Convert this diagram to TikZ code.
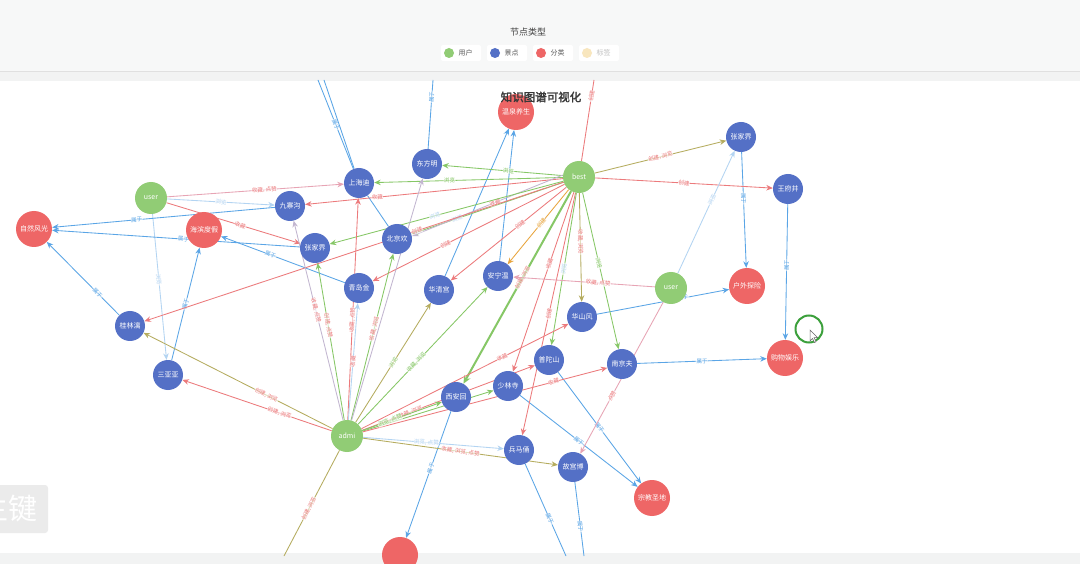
\documentclass[tikz,border=0pt]{standalone}
\usepackage{fontspec}
\setmainfont{Noto Sans CJK SC}[AutoFakeBold=2]
\usetikzlibrary{arrows.meta}
\definecolor{ug}{HTML}{91CC75}
\definecolor{sb}{HTML}{5470C6}
\definecolor{cr}{HTML}{EE6666}
\definecolor{lo}{HTML}{F8E6BE}
\definecolor{eb}{HTML}{5AA5E6}
\definecolor{elb}{HTML}{B3D4F2}
\definecolor{er}{HTML}{EC7A7C}
\definecolor{eg}{HTML}{86C766}
\definecolor{eo}{HTML}{B5AC5E}
\definecolor{ep}{HTML}{E7A4B4}
\definecolor{ev}{HTML}{C2B6D0}
\definecolor{eor}{HTML}{E8A640}
\definecolor{bandbg}{HTML}{F7F8F8}
\definecolor{outerbg}{HTML}{F2F3F3}
\pgfdeclarelayer{bg}
\pgfdeclarelayer{edges}
\pgfdeclarelayer{top}
\pgfsetlayers{bg,edges,main,top}
\tikzset{
  nd/.style={circle, inner sep=0pt, text=white, font=\fontsize{7}{7}\selectfont},
  gnode/.style={nd, fill=ug, minimum size=32pt},
  bnode/.style={nd, fill=sb, minimum size=30pt},
  rnode/.style={nd, fill=cr, minimum size=36pt},
  e/.style={-{Stealth[length=6.5pt,width=5.5pt]}, line width=0.85pt},
  pl/.style={line width=0.85pt},
  elab/.style={font=\fontsize{5.5}{5.5}\selectfont, sloped, text=#1, fill=white, fill opacity=0.6, text opacity=1, inner sep=0.4pt},
  elab/.default=eb,
  legdot/.style={circle, inner sep=0pt, minimum size=10pt},
  legtxt/.style={font=\fontsize{7}{7}\selectfont, text=black!65, anchor=west}
}
\begin{document}
\begin{tikzpicture}[x=1pt,y=-1pt]
\useasboundingbox (0,0) rectangle (1080,564);
\begin{pgfonlayer}{bg}
  \fill[outerbg] (0,0) rectangle (1080,564);
  \fill[bandbg] (0,0) rectangle (1080,71);
  \draw[black!12, line width=0.8pt] (0,71.5) -- (1080,71.5);
  \fill[white] (0,81) rectangle (1080,553);
  \foreach \x in {441, 487, 533, 579}
    \fill[white, rounded corners=2pt] (\x,45) rectangle ++(40,16);
\end{pgfonlayer}

% legend
\node[font=\fontsize{9}{9}\selectfont, text=black!75] (legtitle) at (528,32) {节点类型};
\node[legdot, fill=ug] (lg1) at (449,53) {};
\node[legtxt] (lt1) at (455,53) {用户};
\node[legdot, fill=sb] (lg2) at (495,53) {};
\node[legtxt] (lt2) at (501,53) {景点};
\node[legdot, fill=cr] (lg3) at (541,53) {};
\node[legtxt] (lt3) at (547,53) {分类};
\node[legdot, fill=lo] (lg4) at (587,53) {};
\node[legtxt, text=black!25] (lt4) at (593,53) {标签};

% nodes
\node[rnode] (wqys) at (516,112) {温泉养生};
\node[bnode] (dfm) at (427,164) {东方明};
\node[gnode] (best) at (579,177) {best};
\node[bnode] (zjj1) at (741,137) {张家界};
\node[bnode] (wfj) at (788,189) {王府井};
\node[gnode] (u1) at (151,198) {user};
\node[bnode] (shd) at (359,183) {上海迪};
\node[bnode] (jzg) at (290,206) {九寨沟};
\node[rnode] (zrfg) at (34,229) {自然风光};
\node[rnode] (hbdj) at (204,230) {海滨度假};
\node[bnode] (zjj2) at (315,248) {张家界};
\node[bnode] (bjh) at (397,239) {北京欢};
\node[bnode] (qdj) at (359,288) {青岛金};
\node[bnode] (hqg) at (439,290) {华清宫};
\node[bnode] (anw) at (498,276) {安宁温};
\node[gnode] (u2) at (671,288) {user};
\node[rnode] (hwtx) at (747,286) {户外探险};
\node[bnode] (gll) at (130,326) {桂林漓};
\node[bnode] (hsf) at (582,317) {华山风};
\node[bnode] (sya) at (168,375) {三亚亚};
\node[bnode] (pts) at (549,360) {普陀山};
\node[bnode] (njf) at (622,364) {南京夫};
\node[rnode] (gwyl) at (785,358) {购物娱乐};
\node[bnode] (slj) at (508,386) {少林寺};
\node[bnode] (xah) at (456,397) {西安回};
\node[gnode] (admi) at (347,436) {admi};
\node[bnode] (bmy) at (519,450) {兵马俑};
\node[bnode] (ggb) at (573,467) {故宫博};
\node[rnode] (zjsd) at (652,498) {宗教圣地};
\node[rnode] (botred) at (400,555) {};

% title on top
\begin{pgfonlayer}{top}
\node[font=\fontsize{11.5}{11.5}\selectfont\bfseries, text=black!78] (title) at (541,97) {知识图谱可视化};
\end{pgfonlayer}

% off-canvas ends
\coordinate (ctopA) at (318,80);
\coordinate (ctopB) at (324,80);
\coordinate (ctopC) at (433,80);
\coordinate (ctopD) at (594,80);
\coordinate (cbotA) at (566,556);
\coordinate (cbotB) at (584,556);
\coordinate (cbotC) at (284,556);

% watermark box and cursor ring
\node[fill=black!8, rounded corners=3pt, minimum width=70pt, minimum height=48pt] (wmbox) at (13,509) {};
\node[font=\fontsize{29}{29}\selectfont, text=white] (wmtxt) at (9,509) {主键};
\node[circle, draw={rgb,255:red,60;green,160;blue,60}, line width=2pt, minimum size=27pt, inner sep=0pt] (ring) at (809,329) {};
\coordinate (cur) at (810,330);
\draw[fill=white, draw=black!60, line width=0.5pt] (cur) -- ++(0,11) -- ++(2.5,-2.5) -- ++(2,4) -- ++(1.6,-0.8) -- ++(-2,-4) -- ++(3.5,0) -- cycle;

\begin{pgfonlayer}{edges}
% user 1
\draw[e, draw=ep] (u1) -- node[elab=er, pos=0.55]{收藏, 点赞} (shd);
\draw[e, draw=elb] (u1) -- node[elab=elb]{浏览} (jzg);
\draw[e, draw=er] (u1) -- node[elab=er, pos=0.55]{收藏} (zjj2);
\draw[e, draw=elb] (u1) -- node[elab=elb, pos=0.45]{浏览} (sya);
% belongs-to edges
\draw[e, draw=eb] (jzg) -- node[elab, pos=0.62]{属于} (zrfg);
\draw[e, draw=eb] (zjj2) -- node[elab, pos=0.47]{属于} (zrfg);
\draw[e, draw=eb] (qdj) -- node[elab, pos=0.6]{属于} (hbdj);
\draw[e, draw=eb] (sya) -- node[elab]{属于} (hbdj);
\draw[e, draw=eb] (gll) -- node[elab, pos=0.3]{属于} (zrfg);
\draw[pl, draw=eb] (shd) -- node[elab, pos=0.5]{属于} (ctopA);
\draw[pl, draw=eb] (shd) -- (ctopB);
\draw[pl, draw=eb] (bjh) -- (shd);
\draw[pl, draw=eb] (dfm) -- node[elab, pos=0.75]{属于} (ctopC);
\draw[e, draw=eb] (hqg) -- (wqys);
\draw[e, draw=eb] (anw) -- (wqys);
\draw[e, draw=eb] (zjj1) -- node[elab, pos=0.4]{属于} (hwtx);
\draw[e, draw=eb] (wfj) -- node[elab, pos=0.45]{属于} (gwyl);
\draw[e, draw=eb] (njf) -- node[elab]{属于} (gwyl);
\draw[e, draw=eb] (hsf) -- node[elab, pos=0.65]{属于} (hwtx);
\draw[e, draw=eb] (pts) -- node[elab]{属于} (zjsd);
\draw[e, draw=eb] (slj) -- node[elab, pos=0.5]{属于} (zjsd);
\draw[pl, draw=eb] (bmy) -- node[elab, pos=0.6]{属于} (cbotA);
\draw[pl, draw=eb] (ggb) -- node[elab, pos=0.6]{属于} (cbotB);
\draw[e, draw=eb] (xah) -- node[elab, pos=0.45]{属于} (botred);
% best
\draw[e, draw=eg] (best) -- node[elab=eg, pos=0.45]{浏览} (dfm);
\draw[e, draw=eg] (best) -- node[elab=eg, pos=0.6]{浏览} (shd);
\draw[e, draw=er] (best) -- node[elab=er, pos=0.72]{收藏} (jzg);
\draw[e, draw=eo] (best) -- node[elab=er, pos=0.5]{创建, 浏览} (zjj1);
\draw[e, draw=er] (best) -- node[elab=er, pos=0.5]{创建} (wfj);
\draw[e, draw=eg] (best) -- node[elab=elb, pos=0.7]{浏览} (bjh);
\draw[e, draw=ev] ([yshift=2pt]best.west) -- node[elab=er, pos=0.45]{收藏} ([yshift=3pt]bjh.east);
\draw[e, draw=eg] (best) -- node[elab=elb, pos=0.55]{浏览} (zjj2);
\draw[e, draw=er] (best) -- node[elab=er, pos=0.35]{创建} (gll);
\draw[e, draw=er] (best) -- node[elab=er, pos=0.62]{创建} (qdj);
\draw[e, draw=er] (best) -- node[elab=er, pos=0.4]{创建} (hqg);
\draw[e, draw=eor] (best) -- node[elab=eor, pos=0.45]{创建} (anw);
\draw[-{Stealth[length=8pt,width=7pt]}, line width=2pt, draw=eg] (best) -- node[elab=er, pos=0.45]{创建, 浏览} (xah);
\draw[e, draw=er] (best) -- node[elab=er, pos=0.5]{创建} (bmy);
\draw[e, draw=er] (best) -- node[elab=er, pos=0.4]{收藏} (slj);
\draw[e, draw=eg] (best) -- node[elab=elb, pos=0.5]{浏览} (pts);
\draw[e, draw=eo] (best) -- node[elab=er, pos=0.45]{收藏, 浏览} (hsf);
\draw[e, draw=eg] (best) -- node[elab=eg, pos=0.45]{浏览} (njf);
\draw[pl, draw=er] (best) -- node[elab=er, pos=0.8]{创建} (ctopD);
% user 2
\draw[e, draw=ep] (u2) -- node[elab=er, pos=0.4]{收藏, 点赞} (anw);
\draw[e, draw=elb] (u2) -- node[elab=elb, pos=0.6]{浏览} (zjj1);
\draw[e, draw=ep] (u2) -- node[elab=er, pos=0.62]{点赞} (ggb);
% admi
\draw[e, draw=ev] (admi) -- node[elab=er, pos=0.55]{收藏, 点赞} (jzg);
\draw[e, draw=eg] (admi) -- node[elab=er, pos=0.6]{创建, 点赞} (zjj2);
\draw[e, draw=er] (admi) -- node[elab=er, pos=0.45]{收藏, 点赞} (shd);
\draw[e, draw=eg] (admi) -- node[elab=er, pos=0.55]{收藏, 浏览} (bjh);
\draw[e, draw=ev] (admi) -- (dfm);
\draw[e, draw=elb] (admi) -- node[elab=er, pos=0.5]{收藏} (qdj);
\draw[e, draw=eo] (admi) -- node[elab=eg, pos=0.5]{浏览} (hqg);
\draw[e, draw=eg] (admi) -- node[elab=eg, pos=0.45]{收藏, 浏览} (anw);
\draw[e, draw=er] (admi) -- node[elab=er, pos=0.68]{收藏} (hsf);
\draw[e, draw=er] (admi) -- node[elab=er, pos=0.28]{收藏, 浏览} (pts);
\draw[e, draw=eg] (admi) -- (slj);
\draw[e, draw=er] (admi) -- node[elab=er, pos=0.78]{收藏} (njf);
\draw[e, draw=eg] (admi) -- node[elab=eg, pos=0.35]{浏览, 点赞} (xah);
\draw[e, draw=elb] (admi) -- node[elab=elb, pos=0.45]{浏览, 点赞} (bmy);
\draw[e, draw=eo] (admi) -- node[elab=er, pos=0.5]{收藏, 浏览, 点赞} (ggb);
\draw[e, draw=eo] (admi) -- node[elab=er, pos=0.35]{创建, 浏览} (gll);
\draw[e, draw=er] (admi) -- node[elab=er, pos=0.35]{创建, 浏览} (sya);
\draw[pl, draw=eo] (admi) -- node[elab=er, pos=0.55]{创建, 浏览} (cbotC);
\end{pgfonlayer}
\end{tikzpicture}
\end{document}
